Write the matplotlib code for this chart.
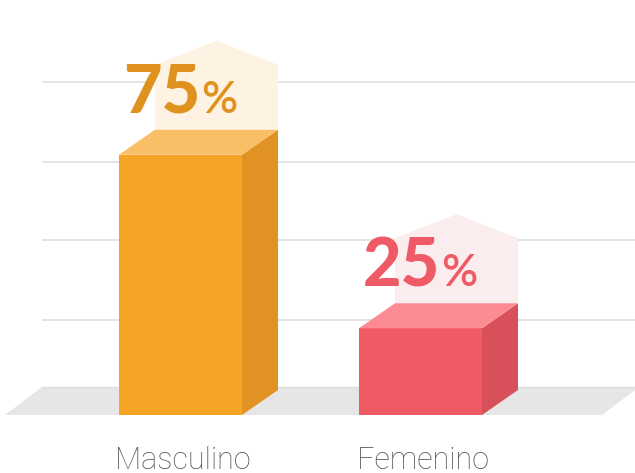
import matplotlib.pyplot as plt
from matplotlib.patches import Polygon

# datos
categorias = ['Masculino', 'Femenino']
valores = [75, 25]
etiquetas = ['75', '25']
lineas_grid = [27.5, 50.5, 73, 96]

# colores (frente, lado, tapa, fantasma, texto)
colores = [
    ('#F7A326', '#E09222', '#FABE66', '#FEF3E2', '#E0921F'),
    ('#EF5A65', '#D7505A', '#FC8B94', '#FBEDEE', '#EE5A66'),
]

K = 3.47  # pixeles por unidad
fig = plt.figure(figsize=(6.35, 4.73), dpi=100)
ax = fig.add_axes([0, 0, 1, 1])
ax.set_xlim(0, 635)
ax.set_ylim(-(473 - 415) / K, 415 / K)
ax.axis('off')

izq = [119, 359]   # borde izquierdo de cada barra
ancho = 123
dx = 36
dy = 25 / K
alto_fantasma = 65 / K
techo = 24 / K

# lineas de fondo
ax.hlines(lineas_grid, 42, 635, color='#e2e2e2', lw=1.3, zorder=0)

# piso
piso = Polygon([(5, 0), (602, 0), (602 + 37, 28 / K), (5 + 37, 28 / K)],
               closed=True, fc='#e6e6e6', ec='none', zorder=1)
ax.add_patch(piso)
ax.plot([42, 639], [28 / K, 28 / K], color='#dedede', lw=1, zorder=1)

for i, (cat, v) in enumerate(zip(categorias, valores)):
    frente, lado, tapa, fantasma, ctexto = colores[i]
    x0 = izq[i]
    x1 = x0 + ancho
    # fantasma
    ax.add_patch(Polygon([(x0 + dx, v + dy), (x1 + dx, v + dy),
                          (x1 + dx, v + dy + alto_fantasma),
                          (x0 + ancho / 2 + dx, v + dy + alto_fantasma + techo),
                          (x0 + dx, v + dy + alto_fantasma)],
                         closed=True, fc=fantasma, ec='none', zorder=2))
    # caras
    ax.add_patch(Polygon([(x0, 0), (x1, 0), (x1, v), (x0, v)],
                         closed=True, fc=frente, ec='none', zorder=3))
    ax.add_patch(Polygon([(x1, 0), (x1 + dx, dy), (x1 + dx, v + dy), (x1, v)],
                         closed=True, fc=lado, ec='none', zorder=3))
    ax.add_patch(Polygon([(x0, v), (x1, v), (x1 + dx, v + dy), (x0 + dx, v + dy)],
                         closed=True, fc=tapa, ec='none', zorder=3))
    # porcentaje
    ax.annotate(etiquetas[i], xy=(x0, v), xytext=(81, 42), textcoords='offset pixels',
                ha='right', va='baseline', fontsize=48, fontweight='black',
                family='Lato', color=ctexto, zorder=5)
    ax.annotate('%', xy=(x0, v), xytext=(82, 42), textcoords='offset pixels',
                ha='left', va='baseline', fontsize=32, fontweight='semibold',
                family='Lato', color=ctexto, zorder=5)
    # categoria
    ax.annotate(cat, xy=(x0 + ancho / 2, 0), xytext=(2, -45), textcoords='offset pixels',
                ha='center', va='center', fontsize=22, fontweight='light',
                family='Roboto', color='#555555')

fig.savefig('out.png', dpi=100)
